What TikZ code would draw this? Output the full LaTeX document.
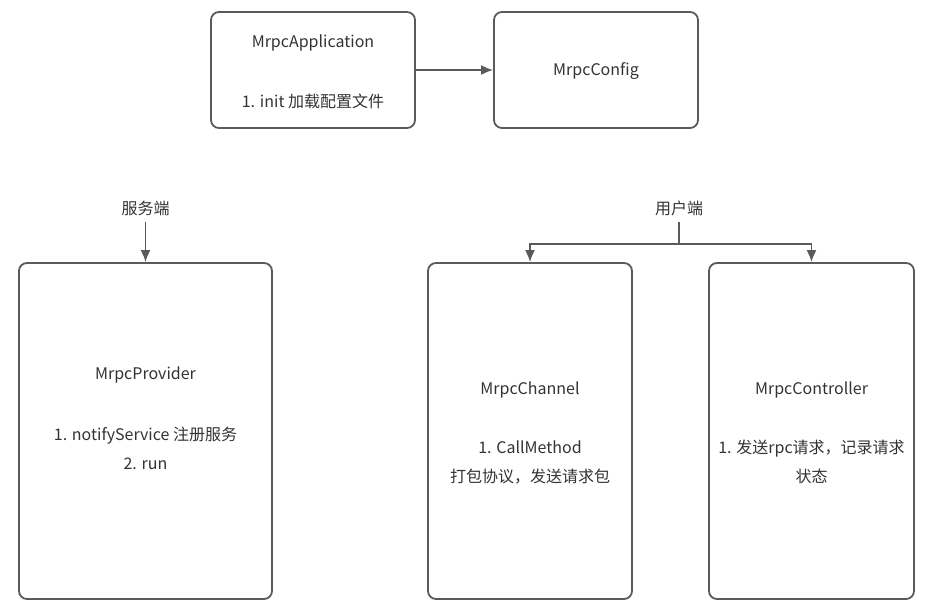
\documentclass[tikz,border=0pt]{standalone}
\usepackage{fontspec}
\setmainfont{Noto Sans CJK SC}
\usetikzlibrary{arrows.meta}
\definecolor{linegray}{HTML}{5A5A5A}
\definecolor{textgray}{HTML}{333333}
\tikzset{
  box/.style={draw=linegray, line width=1.8pt, rounded corners=8pt, inner sep=0pt},
  txt/.style={text=textgray, font=\fontsize{16}{29}\selectfont, inner sep=1pt},
  link/.style={draw=linegray, line width=1.8pt},
  arr/.style={link, -{Latex[length=12pt,width=10pt]}}
}
\begin{document}
\begin{tikzpicture}[x=1pt,y=-1pt]
  \useasboundingbox (0,0) rectangle (934,614);

  % top row
  \node[box, minimum width=204pt, minimum height=116pt] (app) at (313,70) {};
  \node[box, minimum width=204pt, minimum height=116pt] (config) at (596,70) {};
  \node[txt] (apptitle) at (313,42.5) {MrpcApplication};
  \node[txt] (appinit) at (313,101.5) {1. init 加载配置文件};
  \node[txt] (configtitle) at (596,71.5) {MrpcConfig};

  % server side
  \node[txt] (server) at (145.5,208.5) {服务端};
  \node[box, minimum width=253pt, minimum height=336pt] (provider) at (145.5,431) {};
  \node[txt] (providertitle) at (145.5,374.5) {MrpcProvider};
  \node[txt, align=center] (providerops) at (145.5,448) {1. notifyService 注册服务\\2. run};

  % client side
  \node[txt] (client) at (679,208.5) {用户端};
  \coordinate (split) at (679,244);
  \node[box, minimum width=204pt, minimum height=336pt] (channel) at (530,431) {};
  \node[txt] (channeltitle) at (530,389.5) {MrpcChannel};
  \node[txt, align=center] (channelops) at (530,462) {1. CallMethod\\打包协议，发送请求包};
  \node[box, minimum width=205pt, minimum height=336pt] (controller) at (811.5,431) {};
  \node[txt] (controllertitle) at (811.5,389.5) {MrpcController};
  \node[txt, align=center] (controllerops) at (811.5,462) {1. 发送rpc请求，记录请求\\状态};

  \draw[arr] (app.east) -- (config.west);
  \draw[arr] (server.south) ++(0,5) -- (provider.north);
  \draw[link] (client.south) ++(0,5) -- (split);
  \draw[arr] (split) -| (channel.north);
  \draw[arr] (split) -| (controller.north);
\end{tikzpicture}
\end{document}
